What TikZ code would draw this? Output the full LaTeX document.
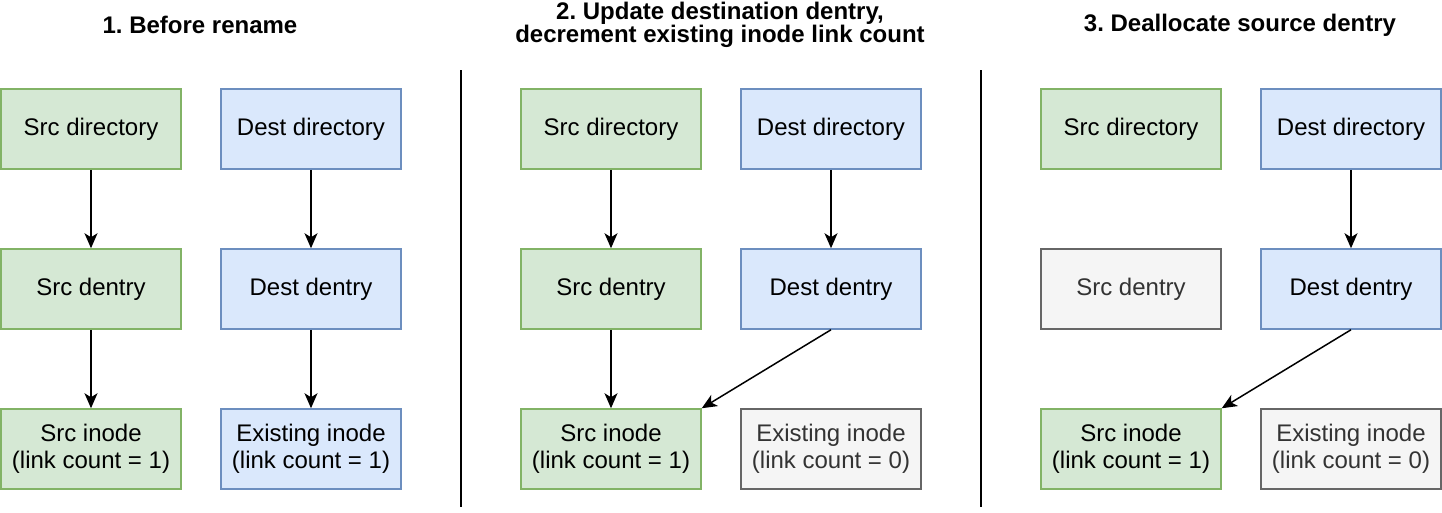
\documentclass[tikz,border=0pt]{standalone}
\usepackage{fontspec}
\setmainfont{Liberation Sans}
\usetikzlibrary{arrows.meta}
\frenchspacing
\definecolor{gfill}{HTML}{D5E8D4}\definecolor{gline}{HTML}{82B366}
\definecolor{bfill}{HTML}{DAE8FC}\definecolor{bline}{HTML}{6C8EBF}
\definecolor{nfill}{HTML}{F5F5F5}\definecolor{nline}{HTML}{666666}
\definecolor{ntext}{HTML}{333333}
\tikzset{
 box/.style={draw, line width=1.5pt, minimum width=180pt, minimum height=80pt, inner sep=0pt, align=center,
   font=\fontsize{24pt}{27pt}\selectfont},
 gbox/.style={box, fill=gfill, draw=gline},
 bbox/.style={box, fill=bfill, draw=bline},
 nbox/.style={box, fill=nfill, draw=nline, text=ntext},
 title/.style={font=\bfseries\fontsize{24pt}{22pt}\selectfont, align=center},
 arr/.style={line width=1.5pt, -{Stealth[length=15pt, width=13pt, inset=4pt]}},
 divider/.style={line width=1.5pt}
}
\begin{document}
\begin{tikzpicture}[x=1pt, y=-1pt]
\useasboundingbox (0,0) rectangle (1442,512);
% titles
\node[title] (t1) at (200,25) {1. Before rename};
\node[title] (t2) at (720,25) {2. Update destination dentry,\\decrement existing inode link count};
\node[title] (t3) at (1240,25) {3. Deallocate source dentry};
% dividers
\coordinate (d1a) at (461,70); \coordinate (d1b) at (461,507);
\coordinate (d2a) at (981,70); \coordinate (d2b) at (981,507);
\draw[divider] (d1a) -- (d1b);
\draw[divider] (d2a) -- (d2b);
% panel 1
\node[gbox] (a1) at (91,129) {Src directory};
\node[bbox] (b1) at (311,129) {Dest directory};
\node[gbox] (a2) at (91,289) {Src dentry};
\node[bbox] (b2) at (311,289) {Dest dentry};
\node[gbox] (a3) at (91,449) {Src inode\\(link count = 1)};
\node[bbox] (b3) at (311,449) {Existing inode\\(link count = 1)};
\draw[arr] (a1) -- (a2);
\draw[arr] (a2) -- (a3);
\draw[arr] (b1) -- (b2);
\draw[arr] (b2) -- (b3);
% panel 2
\node[gbox] (c1) at (611,129) {Src directory};
\node[bbox] (e1) at (831,129) {Dest directory};
\node[gbox] (c2) at (611,289) {Src dentry};
\node[bbox] (e2) at (831,289) {Dest dentry};
\node[gbox] (c3) at (611,449) {Src inode\\(link count = 1)};
\node[nbox] (e3) at (831,449) {Existing inode\\(link count = 0)};
\draw[arr] (c1) -- (c2);
\draw[arr] (c2) -- (c3);
\draw[arr] (e1) -- (e2);
\draw[arr] (e2.south) -- (c3.north east);
% panel 3
\node[gbox] (f1) at (1131,129) {Src directory};
\node[bbox] (g1) at (1351,129) {Dest directory};
\node[nbox] (f2) at (1131,289) {Src dentry};
\node[bbox] (g2) at (1351,289) {Dest dentry};
\node[gbox] (f3) at (1131,449) {Src inode\\(link count = 1)};
\node[nbox] (g3) at (1351,449) {Existing inode\\(link count = 0)};
\draw[arr] (g1) -- (g2);
\draw[arr] (g2.south) -- (f3.north east);
\end{tikzpicture}
\end{document}
